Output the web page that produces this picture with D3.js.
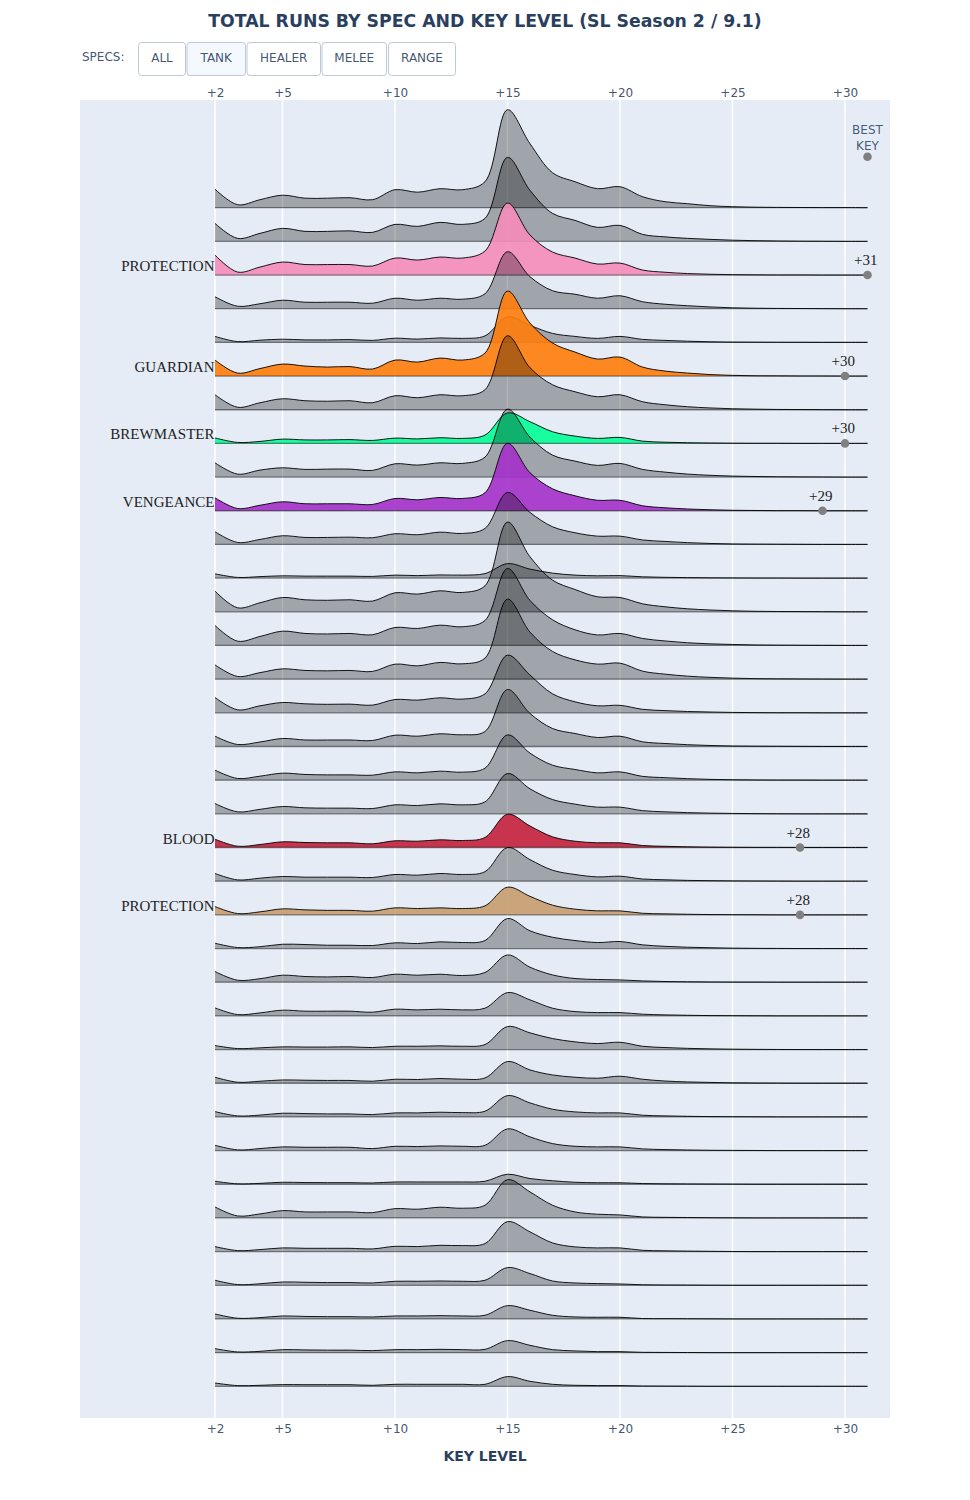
<!DOCTYPE html>
<html><head><meta charset="utf-8">
<script src="https://cdn.jsdelivr.net/npm/d3@7"></script>
<style>html,body{margin:0;padding:0;background:#fff}svg{display:block}</style>
</head><body><svg id="c" width="970" height="1500"></svg>
<script>
const chartTitle = "TOTAL RUNS BY SPEC AND KEY LEVEL (SL Season 2 / 9.1)";
const axisTitle = "KEY LEVEL";
const menuLabel = "SPECS:";
const menuButtons = ["ALL","TANK","HEALER","MELEE","RANGE"];
const activeButton = "TANK";
const tickLevels = [2,5,10,15,20,25,30];
const keyLevels = [2,3,4,5,6,7,8,9,10,11,12,13,14,15,16,17,18,19,20,21,22,23,24,25,26,27,28,29,30,31];

const row01=[18.5,3,8,12.5,9.5,9.5,10,8,18,15.5,19,18,26,98,64,35,26,19,21,11, 6,4,2,1,.5,.3,.2,.1,.1,0];
const row02=[18,3,8,13,10,10,10.5,9,17,15,19,17,23,84,51,28,21,14,16,7, 4.5,3,2,1.2,.7,.4,.2,.1,0,0];
const row03=[20,3,8,13,10.5,10.5,10.5,9,17,15,18,17,24,72,40,23,17,11,12,5, 2.8,1.5,.8,.4,.2,.1,.1,0,0,0];
const row04=[12,2.5,5,8.5,6.5,6.5,6.5,5.5,10.5,8.5,10.5,9.5,15,57,32,18,14.5,10.5,13,7, 4.5,3,1.8,.9,.5,.3,.2,.1,0,0];
const row05=[6,.8,2.2,3.2,2.5,2.5,2.8,2,4.2,3.3,4.5,4,6.5,25.5,17,9,6,4,6,3, 2,1.2,.6,.3,.2,.1,.1,0,0,0];
const row06=[16,3,7.5,12,10,9,9.5,7,16,14,18,16,23,85,53,33,24,17,19,9, 5,3,1.5,.7,.3,.2,.1,.1,0,0];
const row07=[15,2.5,7,11,9,8.5,9,7,14,12,15,14,20,74,42,25,18,13,15,8, 5,3,1.8,1,.6,.3,.2,.1,0,0];
const row08=[5.5,1,2,4.3,3.5,3.5,3.8,3,5.3,4.5,5.7,5,8.3,30.5,21.7,11.7,7.3,5,6,2.3, 1.2,.7,.4,.2,.1,.1,0,0,0,0];
const row09=[14.3,3,7,9.3,7.7,8,8,6.7,13.3,12,14.3,13.7,20,68,40,22,16,11.7,13.7,7.7, 5,3,1.8,1,.6,.3,.2,.1,0,0];
const row10=[13,2.3,5.5,9,7,7,7,6.3,12.3,11,13.3,12.3,18,67.5,38,22,15,10.5,10.5,5, 3,1.8,1,.5,.3,.1,.1,0,0,0];
const row11=[12.7,2,5,8.7,7,7,7.3,6.7,10.7,9.7,12.3,11,16,52,32,17.7,11.7,8.3,8.3,4.5, 3,1.8,1,.5,.3,.2,.1,0,0,0];
const row12=[4.3,.7,1.5,2.3,2,2,2,1.7,3,2.5,3.2,3,4.5,14.5,9,5,3,2.3,2.5,1.3, .8,.5,.3,.2,.1,.1,0,0,0,0];
const row13=[20.7,4,9,14.3,12,11.5,12,10.7,19,17.7,21,19.3,26,89.7,55,31.7,22.3,15,14.3,8, 5,3,1.8,1,.5,.3,.2,.1,0,0];
const row14=[20,4.3,9,14.3,12,11.5,12,10.7,18,17,20.3,18.7,25,77,45,25.7,15.7,10.5,12,7, 4.5,2.7,1.6,1,.5,.3,.2,.1,0,0];
const row15=[14.3,2.7,6.5,10.3,8.7,8.3,8.7,7.7,15,13.3,16.7,15.3,21,80,47,27.7,19.3,15,16,8, 5,3,1.8,1,.5,.3,.2,.1,0,0];
const row16=[15.3,3,7,10.3,9,8.5,8.7,7.7,13.3,12.7,15,13.7,19,57.7,37.7,19,11,7,7.5,3.5, 2.2,1.3,.8,.4,.2,.1,.1,0,0,0];
const row17=[10.3,2,4.5,8,6.5,6.5,6.5,6,11.3,10.3,12.7,11.7,15,57,33,18,13,9,10.3,4.7, 3,1.8,1,.5,.3,.2,.1,0,0,0];
const row18=[10,1.7,4,7,5.7,5.3,5.3,5,8.3,7.3,9,8,12,45.3,27,15,10.7,7.3,8.3,3.8, 2.5,1.5,.8,.4,.2,.1,.1,0,0,0];
const row19=[10.3,2,4.5,7.3,6,5.7,5.7,5.3,9,8.3,10,9,12,40.3,25,14.3,9.7,6.7,6.7,3.2, 2,1.2,.7,.4,.2,.1,0,0,0,0];
const row20=[8.3,1.3,3,5.7,5,4.7,4.7,3.7,6.7,6.3,7.7,7,10,33.3,21.5,10.7,6.3,4.7,4.7,2, 1.2,.7,.4,.2,.1,.1,0,0,0,0];
const row21=[7.7,1.3,3,4.7,4,4,4,3.7,6.7,6,7.7,6.7,9.5,33.7,21.5,11,6.7,4.3,5,2.2, 1.4,.8,.5,.3,.2,.1,0,0,0,0];
const row22=[8.3,1.3,3,6,5,4.5,4.5,3.7,7,6.3,7,6.3,9,27.7,18.5,9.7,5.7,4,4,1.6, 1,.6,.3,.2,.1,0,0,0,0,0];
const row23=[5.3,1,1.8,4.3,4,3.3,3.3,3,5.7,5,6.7,6,8,30,17.7,11.3,8,6,7,3.7, 2.2,1.3,.8,.4,.2,.1,0,0,0,0];
const row24=[10.7,2,3.5,7,5.7,5.3,5.7,4.7,8,7,8,6.7,9.7,27.3,15,7.3,3.7,2.7,2.3,1.3, .7,.4,.2,.1,.1,0,0,0,0,0];
const row25=[8,1.3,3,5.7,4.7,4.7,4.7,3.7,6.7,6,6.7,6,7.7,23.3,16,7.7,4.3,3.3,3.3,1.7, 1,.6,.3,.2,.1,0,0,0,0,0];
const row26=[4,1,1.7,2.7,2.5,2.5,2.7,2,3.3,3.3,3.7,3.3,5,23,16.7,11,7.7,6,7.3,3.3, 2,1.2,.7,.4,.2,.1,0,0,0,0];
const row27=[6,1,2,3.3,3,2.8,2.8,2,4,3.7,4.7,4,5.3,21.7,13.3,8.3,6,5,7,4, 2.2,1.3,.8,.4,.2,.1,0,0,0,0];
const row28=[5.3,1,1.8,3.7,3.3,3,3,2.3,4,4,4.7,4.3,5.7,21.3,14,7.7,5,4,4,1.7, 1,.6,.3,.2,.1,0,0,0,0,0];
const row29=[5.3,.7,2,3.7,3.3,3.3,3.3,2,4.3,4,4.7,4.3,5.3,21.7,13.7,7,4.3,3.7,3.7,1.7, 1,.6,.3,.2,.1,0,0,0,0,0];
const row30=[3,.4,.9,2,1.7,1.6,1.6,1.3,2.3,2.3,2.3,2.3,3,10,5.7,3.5,2,1.5,1.5,.7, .4,.3,.2,.1,0,0,0,0,0,0];
const row31=[11,2,4,7.3,6,6,6,5.3,9.3,8.7,10.7,9.7,12.7,38.3,26,12.7,6,3.7,3,1, .6,.4,.2,.1,0,0,0,0,0,0];
const row32=[5,1,2,3.7,3.3,3.3,3.3,2.7,5.3,5,6.3,6,8,30,19.7,8.7,4.7,3.7,3.7,1.3, .8,.5,.3,.1,0,0,0,0,0,0];
const row33=[5,.7,1.5,3.3,3,2.7,2.7,2.3,4,4,4.3,4,5,17.7,11.7,4.3,2.3,1.7,1.3,.5, .3,.2,.1,0,0,0,0,0,0,0];
const row34=[5,.7,1.3,3,2.5,2.3,2.3,2,3,3,3.3,3,3.7,13.3,8.7,3.7,2,1.7,1.7,.4, .3,.2,.1,0,0,0,0,0,0,0];
const row35=[4,.7,1.3,3,2.7,2.5,2.5,2,3,3,3.3,3,3.3,12,7.3,3,1.7,1,1,.3, .2,.1,0,0,0,0,0,0,0,0];
const row36=[3.3,.7,1,1.7,1.6,1.6,1.6,1,2,2,2,2,2,9.7,5,2,1,.7,.7,.3, .2,.1,0,0,0,0,0,0,0,0];
const rows=[row01,row02,row03,row04,row05,row06,row07,row08,row09,row10,row11,row12,row13,row14,row15,row16,row17,row18,
            row19,row20,row21,row22,row23,row24,row25,row26,row27,row28,row29,row30,row31,row32,row33,row34,row35,row36];

const specNames   = ["PROTECTION","GUARDIAN","BREWMASTER","VENGEANCE","BLOOD","PROTECTION"];
const specRows    = [2,5,7,9,19,21];
const specBest    = [31,30,30,29,28,28];
const specColours = ["#F58CBA","#FF7D0A","#00FF96","#A330C9","#C41F3B","#C79C6E"];

// ---- layout ----
const W=970, H=1500;
const plot={l:80,r:890,t:100,b:1418};
const svg=d3.select("#c");
const x=d3.scaleLinear().domain([2,30]).range([215,845]);
const rowY=d3.scalePoint().domain(d3.range(rows.length)).range([207.7,1386.3]);
const h=d3.scaleLinear().domain([0,100]).range([0,100]);
const sans='"DejaVu Sans",Verdana,sans-serif', head='"DejaVu Sans",Verdana,sans-serif', serif='"Liberation Serif",serif';
const ink="#2a3f5f";

svg.append("rect").attr("x",plot.l).attr("y",plot.t).attr("width",plot.r-plot.l).attr("height",plot.b-plot.t).attr("fill","#e5ecf6");

// gridlines + axes
svg.append("g").selectAll("line").data(tickLevels).join("line")
  .attr("x1",d=>x(d)).attr("x2",d=>x(d)).attr("y1",plot.t).attr("y2",plot.b)
  .attr("stroke","#fff").attr("stroke-width",1.5);
const fmt=d=>"+"+d;
[[d3.axisTop(x),plot.t],[d3.axisBottom(x),plot.b]].forEach(([ax,y])=>{
  const g=svg.append("g").attr("transform",`translate(0,${y})`)
    .call(ax.tickValues(tickLevels).tickFormat(fmt).tickSize(0).tickPadding(y===plot.t?3:6));
  g.select(".domain").remove();
  g.selectAll("text").attr("font-family",sans).attr("font-size",12).attr("fill",ink).attr("fill-opacity",.9);
});

// ridges (later rows paint over earlier ones)
const curve=d3.curveCatmullRom.alpha(0.5);
rows.forEach((vals,i)=>{
  const base=rowY(i), s=specRows.indexOf(i);
  const pts=vals.map((v,k)=>[keyLevels[k],v]);
  const g=svg.append("g");
  g.append("path").datum(pts)
    .attr("d",d3.area().curve(curve).x(d=>x(d[0])).y0(base).y1(d=>base-h(d[1])))
    .attr("fill",s>=0?specColours[s]:"#000").attr("fill-opacity",s>=0?0.9:0.3);
  g.append("line").attr("x1",x(2)).attr("x2",x(31)).attr("y1",base).attr("y2",base)
    .attr("stroke","#000").attr("stroke-opacity",0.45).attr("stroke-width",1.3);
  g.append("path").datum(pts)
    .attr("d",d3.line().curve(curve).x(d=>x(d[0])).y(d=>base-h(d[1])))
    .attr("fill","none").attr("stroke","#000").attr("stroke-width",0.9);
});

// spec labels + best key markers
specRows.forEach((r,i)=>{
  const base=rowY(r);
  svg.append("text").attr("x",214.5).attr("y",base-4).attr("text-anchor","end")
    .attr("font-family",serif).attr("font-size",15).attr("fill","#222").text(specNames[i]);
  svg.append("circle").attr("cx",x(specBest[i])).attr("cy",base).attr("r",4.3).attr("fill","#808080");
  svg.append("text").attr("x",x(specBest[i])-1.8).attr("y",base-10).attr("text-anchor","middle")
    .attr("font-family",serif).attr("font-size",15).attr("fill","#222").text("+"+specBest[i]);
});
// best key legend
svg.append("circle").attr("cx",x(31)).attr("cy",rowY(0)-51).attr("r",4.3).attr("fill","#808080");
["BEST","KEY"].forEach((t,i)=>svg.append("text").attr("x",x(31)).attr("y",134+i*16).attr("text-anchor","middle")
  .attr("font-family",sans).attr("font-size",12).attr("fill",ink).attr("fill-opacity",.85).text(t));

// titles
svg.append("text").attr("x",W/2).attr("y",27).attr("text-anchor","middle")
  .attr("font-family",head).attr("font-weight",700).attr("font-size",17.3).attr("fill",ink).text(chartTitle);
svg.append("text").attr("x",W/2).attr("y",1461).attr("text-anchor","middle")
  .attr("font-family",head).attr("font-weight",700).attr("font-size",14).attr("fill",ink).text(axisTitle);

// menu
svg.append("text").attr("x",82).attr("y",61).attr("font-family",sans).attr("font-size",12).attr("fill",ink).attr("fill-opacity",.9).text(menuLabel);
const btnX=d3.scaleOrdinal().domain(menuButtons).range([138.5,187,247,322,388.5]);
const btnW=d3.scaleOrdinal().domain(menuButtons).range([47,58.5,73.5,64.5,67]);
const btn=svg.append("g").selectAll("g").data(menuButtons).join("g");
btn.append("rect").attr("x",d=>btnX(d)).attr("y",42.5).attr("width",d=>btnW(d)).attr("height",33).attr("rx",3)
  .attr("fill",d=>d===activeButton?"#f4f8ff":"#fff").attr("stroke","#bec8d9").attr("stroke-width",1);
btn.append("text").attr("x",d=>btnX(d)+btnW(d)/2).attr("y",62).attr("text-anchor","middle")
  .attr("font-family",sans).attr("font-size",12).attr("fill",ink).attr("fill-opacity",.9).text(d=>d);
</script></body></html>
